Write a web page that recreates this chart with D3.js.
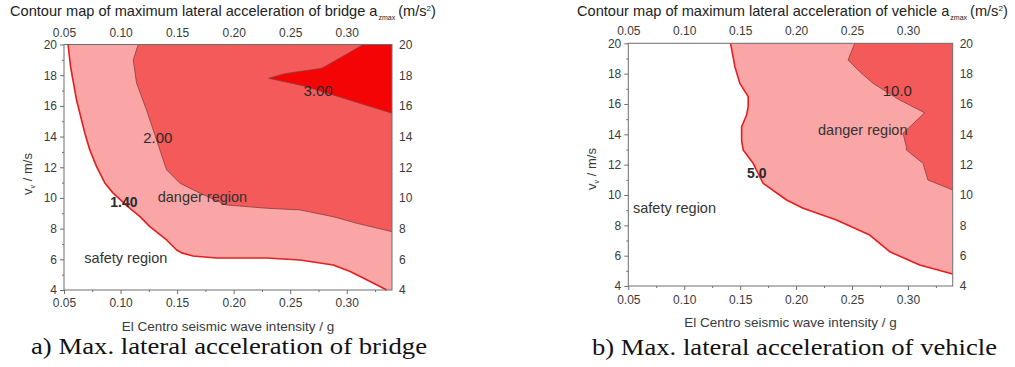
<!DOCTYPE html>
<html>
<head>
<meta charset="utf-8">
<script src="https://cdn.jsdelivr.net/npm/d3@7/dist/d3.min.js"></script>
<style>
  body { margin: 0; background: #fff; }
  svg text { font-family: Arial, "Liberation Sans", sans-serif; }
</style>
</head>
<body>
<svg id="chart" width="1015" height="367"></svg>
<script>
// =================== Data =================
const xDomain = [0.05, 0.34]
const yDomain = [4, 20]
const xTickValues = [0.05, 0.10, 0.15, 0.20, 0.25, 0.30]
const xMinorTickValues = [0.075, 0.125, 0.175, 0.225, 0.275, 0.325]
const yTickValues = [4, 6, 8, 10, 12, 14, 16, 18, 20]
const yMinorTickValues = [5, 7, 9, 11, 13, 15, 17, 19]

// bridge contours [intensity g, v m/s]
const bridgeContour140 = [
  [0.0536, 20], [0.0558, 18.55], [0.0611, 16.38], [0.0684, 14.23], [0.0728, 13.13],
  [0.0788, 12.04], [0.0861, 10.98], [0.0932, 10.33], [0.1065, 9.43], [0.1172, 8.78],
  [0.1259, 8.13], [0.1407, 7.26], [0.1496, 6.61], [0.154, 6.42], [0.164, 6.22],
  [0.185, 6.09], [0.229, 6.09], [0.2587, 5.96], [0.288, 5.63], [0.303, 5.20],
  [0.3207, 4.55], [0.3354, 4.0]
]
const bridgeContour200 = [
  [0.1156, 20], [0.1112, 18.99], [0.1142, 17.47], [0.123, 15.73], [0.1289, 14.43],
  [0.1348, 13.13], [0.1407, 11.83], [0.1525, 10.96], [0.1702, 10.31], [0.1938, 9.54],
  [0.2292, 9.33], [0.2587, 9.22], [0.2879, 8.78], [0.3089, 8.35], [0.34, 7.80]
]
const bridgeContour300 = [
  [0.3147, 20], [0.2882, 18.88], [0.2779, 18.45], [0.2453, 18.10], [0.2310, 17.80],
  [0.2620, 17.30], [0.2879, 16.71], [0.34, 15.52]
]
const bridgeLabels = [
  { text: '3.00', x: 0.2746, v: 16.97 },
  { text: '2.00', x: 0.1330, v: 13.94 },
  { text: '1.40', x: 0.1029, v: 9.71 }
]
const bridgeRegions = [
  { text: 'danger region', x: 0.1724, v: 10.03 },
  { text: 'safety region', x: 0.1047, v: 6.06 }
]

// vehicle contours [intensity g, v m/s]
const vehicleContour50 = [
  [0.1414, 20], [0.1453, 18.46], [0.1497, 17.36], [0.1572, 16.48], [0.1572, 15.82],
  [0.1557, 15.27], [0.1513, 14.50], [0.1513, 13.62], [0.1527, 12.97], [0.1616, 12.09],
  [0.1676, 11.20], [0.1706, 10.77], [0.1915, 9.67], [0.2063, 9.12], [0.2361, 8.35],
  [0.2658, 7.36], [0.2837, 6.26], [0.3105, 5.38], [0.34, 4.79]
]
const vehicleContour100 = [
  [0.2524, 20], [0.2465, 18.90], [0.2569, 18.13], [0.2688, 17.36], [0.2926, 16.26],
  [0.3149, 15.42], [0.2956, 14.07], [0.2986, 13.18], [0.2986, 12.97], [0.3134, 12.09],
  [0.3179, 10.99], [0.34, 10.33]
]
const vehicleLabels = [
  { text: '10.0', x: 0.2905, v: 16.92 },
  { text: '5.0', x: 0.1649, v: 11.48 }
]
const vehicleRegions = [
  { text: 'danger region', x: 0.2596, v: 14.28 },
  { text: 'safety region', x: 0.0913, v: 9.17 }
]

// =================== Style =================
const COLORS = { light: '#fba6a6', medium: '#f45a5a', strong: '#f40404', redLine: '#e31e1e', darkLine: '#8a3c3c', axis: '#6e6e6e', text: '#3a3a3a' }

const svg = d3.select('#chart')

function drawPanel (cfg) {
  const { left, top, right, bottom } = cfg.box
  const xScale = d3.scaleLinear().domain(xDomain).range([left, right])
  const yScale = d3.scaleLinear().domain(yDomain).range([bottom, top])
  const g = svg.append('g')

  const line = d3.line().x(d => xScale(d[0])).y(d => yScale(d[1]))
  // close each band along the right edge and the top edge
  const closeArea = pts => pts.concat([[xDomain[1], pts[pts.length - 1][1]], [xDomain[1], yDomain[1]]])

  // =================== Filled bands =================
  cfg.layers.forEach(layer => {
    g.append('path')
      .attr('d', line(closeArea(layer.points)) + 'Z')
      .attr('fill', layer.fill)
      .attr('stroke', 'none')
  })
  cfg.layers.forEach(layer => {
    g.append('path')
      .attr('d', line(layer.points))
      .attr('fill', 'none')
      .attr('stroke', layer.stroke)
      .attr('stroke-width', layer.strokeWidth)
      .attr('stroke-linejoin', 'round')
  })

  // =================== Axes =================
  const fmt = d3.format('.2f')
  const axisLeft = d3.axisLeft(yScale).tickValues(yTickValues).tickSize(4).tickPadding(3)
  const axisLeftMinor = d3.axisLeft(yScale).tickValues(yMinorTickValues).tickSize(2).tickFormat('')
  const axisBottom = d3.axisBottom(xScale).tickValues(xTickValues).tickFormat(fmt).tickSize(4).tickPadding(cfg.bottomPad)
  const axisBottomMinor = d3.axisBottom(xScale).tickValues(xMinorTickValues).tickSize(2).tickFormat('')
  const axisTop = d3.axisTop(xScale).tickValues(xTickValues).tickFormat(fmt).tickSize(0).tickPadding(8)
  const axisRight = d3.axisRight(yScale).tickValues(yTickValues).tickSize(0).tickPadding(7)

  const axes = [
    [axisLeft, 0, left], [axisLeftMinor, 0, left],
    [axisBottom, 1, bottom], [axisBottomMinor, 1, bottom],
    [axisTop, 1, top], [axisRight, 0, right]
  ]
  axes.forEach(([ax, horizontal, pos]) => {
    const a = g.append('g')
      .attr('transform', horizontal ? `translate(0,${pos})` : `translate(${pos},0)`)
      .call(ax)
    a.select('.domain').remove()
    a.selectAll('line').attr('stroke', COLORS.axis)
    a.selectAll('text').attr('fill', COLORS.text).style('font-size', '12px').style('font-family', 'Arial, "Liberation Sans", sans-serif')
  })

  g.append('rect')
    .attr('x', left).attr('y', top)
    .attr('width', right - left).attr('height', bottom - top)
    .attr('fill', 'none').attr('stroke', COLORS.axis).attr('stroke-width', 1)

  // =================== Contour labels =================
  cfg.labels.forEach((d, i) => {
    g.append('text')
      .attr('x', xScale(d.x)).attr('y', yScale(d.v))
      .attr('text-anchor', 'middle').attr('dominant-baseline', 'central')
      .style('font-size', i === cfg.labels.length - 1 ? '14px' : '15px')
      .style('font-weight', i === cfg.labels.length - 1 ? 'bold' : 'normal')
      .attr('fill', '#2a2a2a')
      .text(d.text)
  })
  cfg.regions.forEach(d => {
    g.append('text')
      .attr('x', xScale(d.x)).attr('y', yScale(d.v))
      .attr('text-anchor', 'middle').attr('dominant-baseline', 'central')
      .style('font-size', '14.5px')
      .attr('fill', '#333')
      .text(d.text)
  })

  // =================== Titles =================
  const title = g.append('text')
    .attr('x', cfg.titleX).attr('y', 16)
    .attr('fill', '#222').style('font-size', '14.6px')
  title.append('tspan').text(cfg.title + ' a')
  title.append('tspan').attr('dy', 4).attr('dx', 1).style('font-size', '7px').text('zmax')
  title.append('tspan').attr('dy', -4).attr('dx', 3).text('(m/s')
  title.append('tspan').attr('dy', -5).style('font-size', '8px').text('2')
  title.append('tspan').attr('dy', 5).text(')')

  const cx = (left + right) / 2
  g.append('text')
    .attr('x', cx).attr('y', bottom + cfg.xTitleOffset)
    .attr('text-anchor', 'middle').attr('fill', COLORS.text)
    .style('font-size', '13.5px')
    .text('El Centro seismic wave intensity / g')

  const yl = g.append('text')
    .attr('transform', `translate(${left - 32},${cfg.yTitleY}) rotate(-90)`)
    .attr('text-anchor', 'middle').attr('fill', COLORS.text)
    .style('font-size', '13px')
  yl.append('tspan').text('v')
  yl.append('tspan').attr('dy', 3).style('font-size', '7px').text('v')
  yl.append('tspan').attr('dy', -3).text(' / m/s')

  svg.append('text')
    .attr('x', cfg.captionX).attr('y', cfg.captionY)
    .attr('fill', '#111')
    .attr('textLength', cfg.captionWidth)
    .attr('lengthAdjust', 'spacingAndGlyphs')
    .style('font-family', '"Liberation Serif", "Times New Roman", serif')
    .style('font-size', '23.5px')
    .text(cfg.caption)
}

drawPanel({
  box: { left: 64, top: 44.5, right: 392, bottom: 290 },
  layers: [
    { points: bridgeContour140, fill: COLORS.light, stroke: COLORS.redLine, strokeWidth: 1.6 },
    { points: bridgeContour200, fill: COLORS.medium, stroke: COLORS.darkLine, strokeWidth: 0.8 },
    { points: bridgeContour300, fill: COLORS.strong, stroke: COLORS.darkLine, strokeWidth: 0.8 }
  ],
  labels: bridgeLabels,
  regions: bridgeRegions,
  bottomPad: 4,
  xTitleOffset: 41,
  yTitleY: 174,
  title: 'Contour map of maximum lateral acceleration of bridge',
  titleX: 10,
  caption: 'a) Max. lateral acceleration of bridge',
  captionX: 31,
  captionY: 354,
  captionWidth: 396
})

drawPanel({
  box: { left: 628.3, top: 43.3, right: 952.7, bottom: 286 },
  layers: [
    { points: vehicleContour50, fill: COLORS.light, stroke: COLORS.redLine, strokeWidth: 1.6 },
    { points: vehicleContour100, fill: COLORS.medium, stroke: COLORS.darkLine, strokeWidth: 0.8 }
  ],
  labels: vehicleLabels,
  regions: vehicleRegions,
  bottomPad: 5,
  xTitleOffset: 41,
  yTitleY: 169,
  title: 'Contour map of maximum lateral acceleration of vehicle',
  titleX: 577,
  caption: 'b) Max. lateral acceleration of vehicle',
  captionX: 592,
  captionY: 355,
  captionWidth: 405
})
</script>
</body>
</html>
